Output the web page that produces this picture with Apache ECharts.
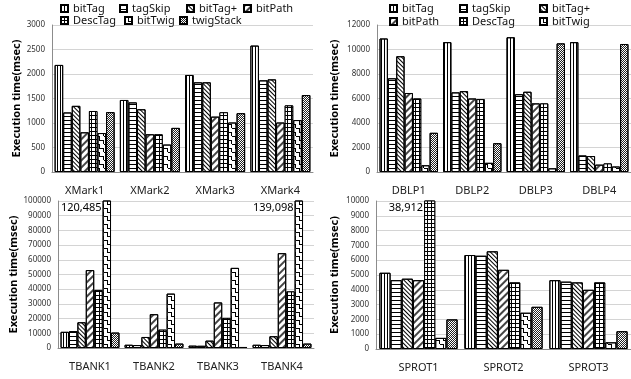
<!DOCTYPE html>
<html><head><meta charset="utf-8">
<script src="https://cdn.jsdelivr.net/npm/echarts@6/dist/echarts.min.js"></script>
<style>html,body{margin:0;padding:0;background:#fff}#c{width:631px;height:379px}</style>
</head><body><div id="c"></div>
<script>
// ---------- data ----------
const seriesNames = ['bitTag', 'tagSkip', 'bitTag+', 'bitPath', 'DescTag', 'bitTwig', 'twigStack'];
const yAxisTitle = 'Execution time(msec)';

const xmarkCategories = ['XMark1', 'XMark2', 'XMark3', 'XMark4'];
const xmarkValues = [
  [2185, 1470, 1980, 2580], // bitTag
  [1215, 1420, 1830, 1870], // tagSkip
  [1350, 1280, 1830, 1890], // bitTag+
  [810, 770, 1130, 1010],   // bitPath
  [1245, 770, 1220, 1360],  // DescTag
  [795, 560, 1010, 1060],   // bitTwig
  [1222, 900, 1200, 1570]   // twigStack
];
const xmarkTicks = { min: 0, max: 3000, interval: 500 };

const dblpCategories = ['DBLP1', 'DBLP2', 'DBLP3', 'DBLP4'];
const dblpValues = [
  [10900, 10600, 11000, 10600],
  [7650, 6500, 6350, 1350],
  [9450, 6600, 6550, 1300],
  [6450, 6000, 5600, 600],
  [6000, 5950, 5600, 700],
  [550, 750, 300, 450],
  [3200, 2350, 10500, 10450]
];
const dblpTicks = { min: 0, max: 12000, interval: 2000 };

const tbankCategories = ['TBANK1', 'TBANK2', 'TBANK3', 'TBANK4'];
const tbankValues = [
  [11000, 2200, 1600, 2200],
  [11500, 2000, 1500, 2000],
  [17500, 7500, 5000, 8000],
  [53000, 23000, 31000, 64500],
  [39500, 12500, 20500, 38500],
  [120485, 37000, 54500, 139098],
  [10500, 3000, 700, 3000]
];
const tbankTicks = { min: 0, max: 100000, interval: 10000 };

const sprotCategories = ['SPROT1', 'SPROT2', 'SPROT3'];
const sprotValues = [
  [5150, 6350, 4650],
  [4650, 6300, 4550],
  [4750, 6600, 4500],
  [4650, 5350, 4000],
  [38912, 4500, 4500],
  [750, 2450, 450],
  [2000, 2850, 1200]
];
const sprotTicks = { min: 0, max: 10000, interval: 1000 };

// ---------- styles ----------
const FONT = '"Noto Sans", "Liberation Sans", sans-serif';
function dec(o) {
  return Object.assign({ symbol: 'rect', symbolSize: 1, rotation: 0, color: '#000',
    symbolKeepAspect: false, maxTileWidth: 512, maxTileHeight: 512 }, o);
}
const styles = [
  { color: '#fff', decal: dec({ dashArrayX: [1, 2], dashArrayY: [1, 0] }) },
  { color: '#fff', decal: dec({ dashArrayX: [1, 0], dashArrayY: [1, 3] }) },
  { color: '#fff', decal: dec({ dashArrayX: [1, 2], dashArrayY: [1, 0], rotation: -Math.PI / 4 }) },
  { color: '#fff', decal: dec({ dashArrayX: [1.5, 2.5], dashArrayY: [1, 0], rotation: Math.PI / 4, color: '#444' }) },
  { color: '#000', decal: dec({ dashArrayX: [3, 1], dashArrayY: [3, 1], color: '#fff' }) },
  { color: '#fff', decal: dec({ symbol: 'path://M0,0H4V4H8V8H7V5H3V1H0Z', dashArrayX: [8, 0], dashArrayY: [8, 0] }) },
  { color: '#fff', decal: dec({ dashArrayX: [[1, 1], [0, 1, 1, 0]], dashArrayY: [1, 0], color: '#222' }) }
];

const panels = [
  { cats: xmarkCategories, vals: xmarkValues, ticks: xmarkTicks, grid: { left: 52, top: 25, width: 261, height: 147 }, nameGap: 27 },
  { cats: dblpCategories, vals: dblpValues, ticks: dblpTicks, grid: { left: 377, top: 25, width: 256, height: 147 }, nameGap: 37 },
  { cats: tbankCategories, vals: tbankValues, ticks: tbankTicks, grid: { left: 58, top: 201, width: 256, height: 147 }, nameGap: 34 },
  { cats: sprotCategories, vals: sprotValues, ticks: sprotTicks, grid: { left: 376, top: 201, width: 264, height: 148 }, nameGap: 36 }
];

const grids = [], xAxes = [], yAxes = [], series = [];
panels.forEach((p, i) => {
  grids.push(Object.assign({ containLabel: false }, p.grid));
  xAxes.push({
    type: 'category', gridIndex: i, data: p.cats,
    axisLine: { show: true, lineStyle: { color: '#8c8c8c' } },
    axisTick: { show: false },
    axisLabel: { fontFamily: FONT, fontSize: 11, color: '#222', margin: 13 }
  });
  yAxes.push({
    type: 'value', gridIndex: i, min: p.ticks.min, max: p.ticks.max, interval: p.ticks.interval,
    name: yAxisTitle, nameLocation: 'middle', nameGap: p.nameGap,
    nameTextStyle: { fontFamily: FONT, fontSize: 11, fontWeight: 'bold', color: '#000' },
    axisLine: { show: true, lineStyle: { color: '#8c8c8c' } },
    axisTick: { show: false },
    splitLine: { lineStyle: { color: '#d4d4d4' } },
    axisLabel: { fontFamily: FONT, fontSize: 8, color: '#333', margin: 7, formatter: (v) => String(v) }
  });
  p.vals.forEach((arr, k) => {
    series.push({
      type: 'bar', name: seriesNames[k], xAxisIndex: i, yAxisIndex: i, data: arr,
      barGap: '0%', barCategoryGap: '8%', animation: false,
      itemStyle: Object.assign({ borderColor: '#000', borderWidth: 1 }, styles[k]),
      label: {
        show: true, position: [-1, 7], align: 'right', verticalAlign: 'middle',
        fontFamily: FONT, fontSize: 11, color: '#000',
        formatter: (d) => d.value > p.ticks.max ? d.value.toLocaleString('en-US') : ''
      },
      emphasis: { disabled: true }
    });
  });
});

const legendSpots = [
  ['bitTag', 60, 3], ['tagSkip', 119, 3], ['bitTag+', 186, 3], ['bitPath', 243, 3],
  ['DescTag', 60, 15], ['bitTwig', 124, 15], ['twigStack', 179, 15],
  ['bitTag', 389, 3], ['tagSkip', 459, 3], ['bitTag+', 539, 3],
  ['bitPath', 389, 16], ['DescTag', 459, 16], ['bitTwig', 539, 16]
];
const legends = legendSpots.map(([n, x, y]) => ({
  data: [n], left: x, top: y, padding: 0, icon: 'rect', itemWidth: 7, itemHeight: 7,
  selectedMode: false, textStyle: { fontFamily: FONT, fontSize: 11, color: '#111' }
}));

const chart = echarts.init(document.getElementById('c'), null, { renderer: 'canvas' });
chart.setOption({
  backgroundColor: '#fff', animation: false,
  grid: grids, xAxis: xAxes, yAxis: yAxes, legend: legends, series: series
});
</script></body></html>
